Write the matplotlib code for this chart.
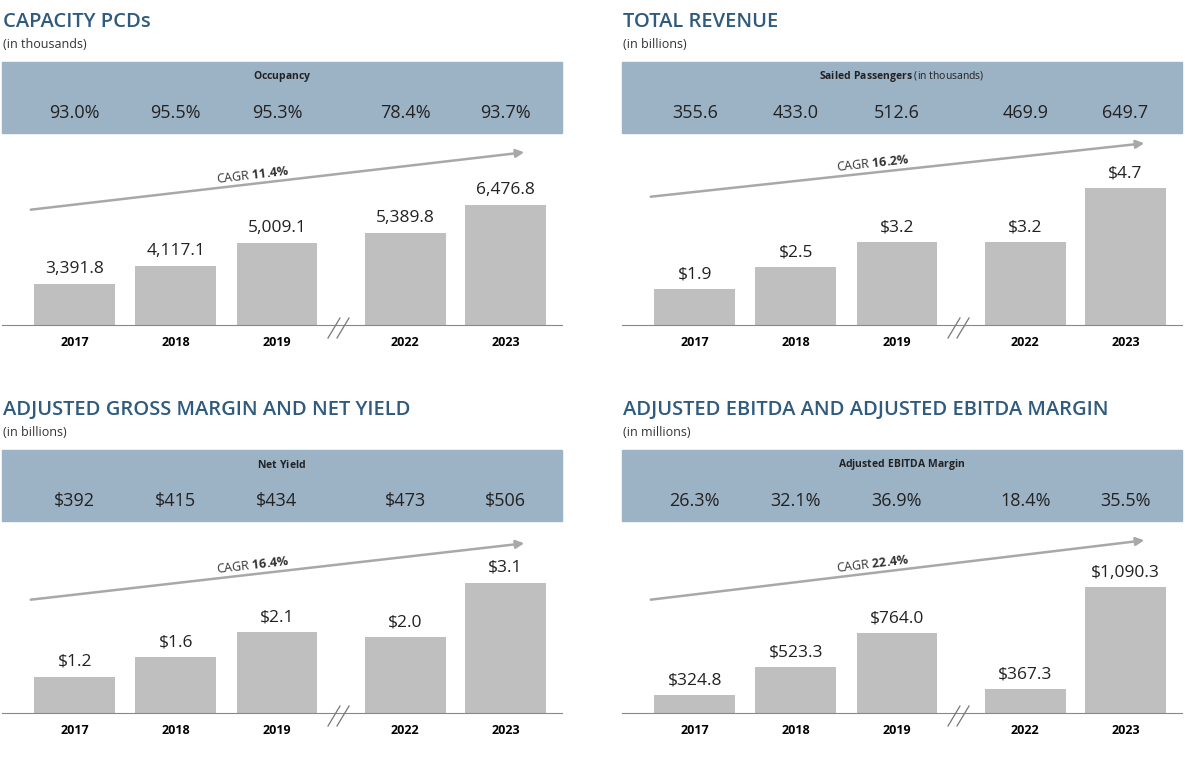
import math

import matplotlib.pyplot as plt
import matplotlib.patches as patches
from matplotlib.lines import Line2D

plt.rcParams['font.family'] = ['Open Sans', 'DejaVu Sans']
plt.rcParams['mathtext.fontset'] = 'custom'
plt.rcParams['mathtext.bf'] = 'Open Sans:bold'
plt.rcParams['mathtext.rm'] = 'Open Sans'

W, H = 1185, 766

years = ['2017', '2018', '2019', '2022', '2023']

pcd_values = [3391.8, 4117.1, 5009.1, 5389.8, 6476.8]
pcd_labels = ['3,391.8', '4,117.1', '5,009.1', '5,389.8', '6,476.8']
occupancy = ['93.0%', '95.5%', '95.3%', '78.4%', '93.7%']

revenue_values = [1.9, 2.5, 3.2, 3.2, 4.7]
revenue_labels = ['$1.9', '$2.5', '$3.2', '$3.2', '$4.7']
passengers = ['355.6', '433.0', '512.6', '469.9', '649.7']

margin_values = [1.2, 1.6, 2.1, 2.0, 3.1]
margin_labels = ['$1.2', '$1.6', '$2.1', '$2.0', '$3.1']
net_yield = ['$392', '$415', '$434', '$473', '$506']

ebitda_values = [324.8, 523.3, 764.0, 367.3, 1090.3]
ebitda_labels = ['$324.8', '$523.3', '$764.0', '$367.3', '$1,090.3']
ebitda_margin = ['26.3%', '32.1%', '36.9%', '18.4%', '35.5%']

BLUE = '#2f5b7e'
BAND = '#9cb2c5'
BAR = '#bfbfbf'
ARROW = '#a8a8a8'

xpos = [0, 1, 2, 3.27, 4.26]


def fx(x):
    return x / W


def fy(y):
    return 1 - y / H


fig = plt.figure(figsize=(W / 100, H / 100), dpi=100)


def panel(ox, oy, title, unit, band_label, band_values, values, labels,
          ybottom, slope, cagr, arrow_y0, arrow_y1):
    # title + unit
    fig.text(fx(ox + 3), fy(oy + 22), title, color=BLUE, fontsize=14.5,
             fontweight='semibold', va='center', ha='left')
    fig.text(fx(ox + 3), fy(oy + 45), unit, color='#333333', fontsize=9,
             va='center', ha='left')
    # header band
    fig.patches.append(patches.Rectangle((fx(ox + 2), fy(oy + 133)), 560 / W, 71 / H,
                                         transform=fig.transFigure, color=BAND, zorder=0))
    fig.text(fx(ox + 282), fy(oy + 77), band_label, fontsize=7.5, color='#222222',
             ha='center', va='center')

    # bar axes: baseline at oy+325, top at oy+140
    top_px, base_px = oy + 140, oy + 325
    ax = fig.add_axes([fx(ox + 2), fy(base_px), 560 / W, (base_px - top_px) / H])
    ax.bar(xpos, values, width=0.8, color=BAR, bottom=0)
    ax.set_xlim(-0.72, 4.82)
    ax.set_ylim(ybottom, ybottom + (base_px - top_px) / slope)
    for x, v, lab in zip(xpos, values, labels):
        ax.annotate(lab, (x, v), xytext=(0, 5), textcoords='offset points',
                    ha='center', va='bottom', fontsize=12.5, color='#222222')
    for s in ['top', 'right', 'left']:
        ax.spines[s].set_visible(False)
    ax.spines['bottom'].set_color('#888888')
    ax.set_yticks([])
    ax.set_xticks(xpos)
    ax.set_xticklabels(years, fontsize=9, fontweight='bold')
    ax.tick_params(axis='x', length=0, pad=8)
    ax.patch.set_alpha(0)

    for x, v in zip(xpos, band_values):
        fig.text(fx(ox + 2) + (x + 0.72) / 5.54 * 560 / W, fy(oy + 113), v,
                 fontsize=13, color='#222222', ha='center', va='center')

    # axis break marks
    for dx in (0, 9):
        fig.lines.append(Line2D([fx(ox + 328 + dx), fx(ox + 340 + dx)],
                                [fy(oy + 338), fy(oy + 318)],
                                transform=fig.transFigure, color='#777777', lw=0.9))

    # CAGR arrow
    x0, x1 = ox + 28, ox + 527
    fig.patches.append(patches.FancyArrowPatch((fx(x0), fy(oy + arrow_y0)), (fx(x1), fy(oy + arrow_y1)),
                                               transform=fig.transFigure, arrowstyle='-|>',
                                               mutation_scale=12, color=ARROW, lw=1.8))
    xm = (x0 + x1) / 2
    ym = (arrow_y0 + arrow_y1) / 2
    ang = math.degrees(math.atan2(arrow_y0 - arrow_y1, (x1 - x0) * 1.0))
    lab_x = xm - 25
    lab_y = arrow_y0 + (arrow_y1 - arrow_y0) * (lab_x - x0) / (x1 - x0) - 9
    fig.text(fx(lab_x), fy(oy + lab_y), r'CAGR $\bf{' + cagr + r'\%}$', fontsize=9,
             rotation=ang, rotation_mode='anchor', ha='center', va='center', color='#333333')


panel(0, 0, 'CAPACITY PCDs', '(in thousands)', r'$\bf{Occupancy}$', occupancy,
      pcd_values, pcd_labels, 1800, 0.0256, '11.4', 210, 152)
panel(620, 0, 'TOTAL REVENUE', '(in billions)', r'$\bf{Sailed\ Passengers}$ (in thousands)',
      passengers, revenue_values, revenue_labels, 0.9, 36.0, '16.2', 197, 143)
panel(0, 388, 'ADJUSTED GROSS MARGIN AND NET YIELD', '(in billions)', r'$\bf{Net\ Yield}$',
      net_yield, margin_values, margin_labels, 0.47, 49.5, '16.4', 212, 155)
panel(620, 388, 'ADJUSTED EBITDA AND ADJUSTED EBITDA MARGIN', '(in millions)',
      r'$\bf{Adjusted\ EBITDA\ Margin}$', ebitda_margin, ebitda_values, ebitda_labels,
      200, 0.141, '22.4', 212, 152)

fig.savefig('out.png', dpi=100)
